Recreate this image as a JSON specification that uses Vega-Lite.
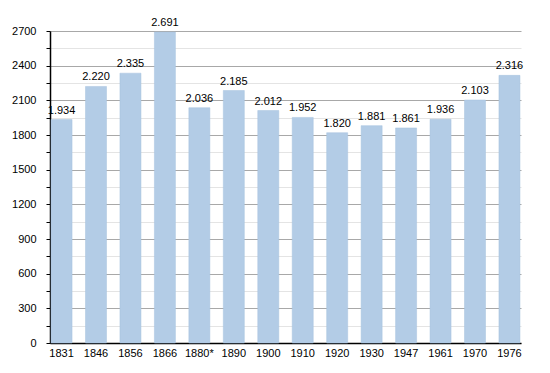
{
  "$schema": "https://vega.github.io/schema/vega-lite/v6.json",
  "width": 471,
  "height": 312,
  "autosize": {"type": "none"},
  "padding": {"left": 50, "top": 31, "right": 29, "bottom": 30},
  "background": "white",
  "config": {
    "view": {"stroke": null},
    "font": "Liberation Sans",
    "locale": {"number": {"decimal": ",", "thousands": ".", "grouping": [3], "currency": ["", " €"]}}
  },
  "data": {
    "values": [
      {"year": "1831", "pop": 1934},
      {"year": "1846", "pop": 2220},
      {"year": "1856", "pop": 2335},
      {"year": "1866", "pop": 2691},
      {"year": "1880*", "pop": 2036},
      {"year": "1890", "pop": 2185},
      {"year": "1900", "pop": 2012},
      {"year": "1910", "pop": 1952},
      {"year": "1920", "pop": 1820},
      {"year": "1930", "pop": 1881},
      {"year": "1947", "pop": 1861},
      {"year": "1961", "pop": 1936},
      {"year": "1970", "pop": 2103},
      {"year": "1976", "pop": 2316}
    ]
  },
  "encoding": {
    "x": {
      "field": "year", "type": "nominal", "sort": null,
      "scale": {"paddingInner": 0.39, "paddingOuter": 0.03},
      "axis": {"title": null, "labelAngle": 0, "ticks": false, "domainColor": "black", "domainWidth": 1.5, "labelColor": "black", "labelFontSize": 11, "labelPadding": 4, "grid": false}
    },
    "y": {
      "field": "pop", "type": "quantitative",
      "scale": {"domain": [0, 2700], "nice": false},
      "axis": {
        "title": null,
        "values": [0,150,300,450,600,750,900,1050,1200,1350,1500,1650,1800,1950,2100,2250,2400,2550,2700],
        "labelExpr": "datum.value % 300 === 0 ? format(datum.value, 'd') : ''",
        "labelColor": "black", "labelFontSize": 11, "labelPadding": 10,
        "domainColor": "black", "domainWidth": 1.5,
        "tickColor": "black", "tickSize": 4,
        "grid": true,
        "gridColor": {"condition": {"test": "datum.value % 300 === 0", "value": "#a8a8a8"}, "value": "#e4e4e4"},
        "gridWidth": 1
      }
    }
  },
  "layer": [
    {"mark": {"type": "bar", "color": "#b3cce6", "stroke": "#a6c2df", "strokeWidth": 0.5}},
    {
      "mark": {"type": "text", "baseline": "bottom", "dy": -4, "fontSize": 11, "color": "black"},
      "encoding": {"text": {"field": "pop", "type": "quantitative", "format": ",d"}}
    }
  ]
}
